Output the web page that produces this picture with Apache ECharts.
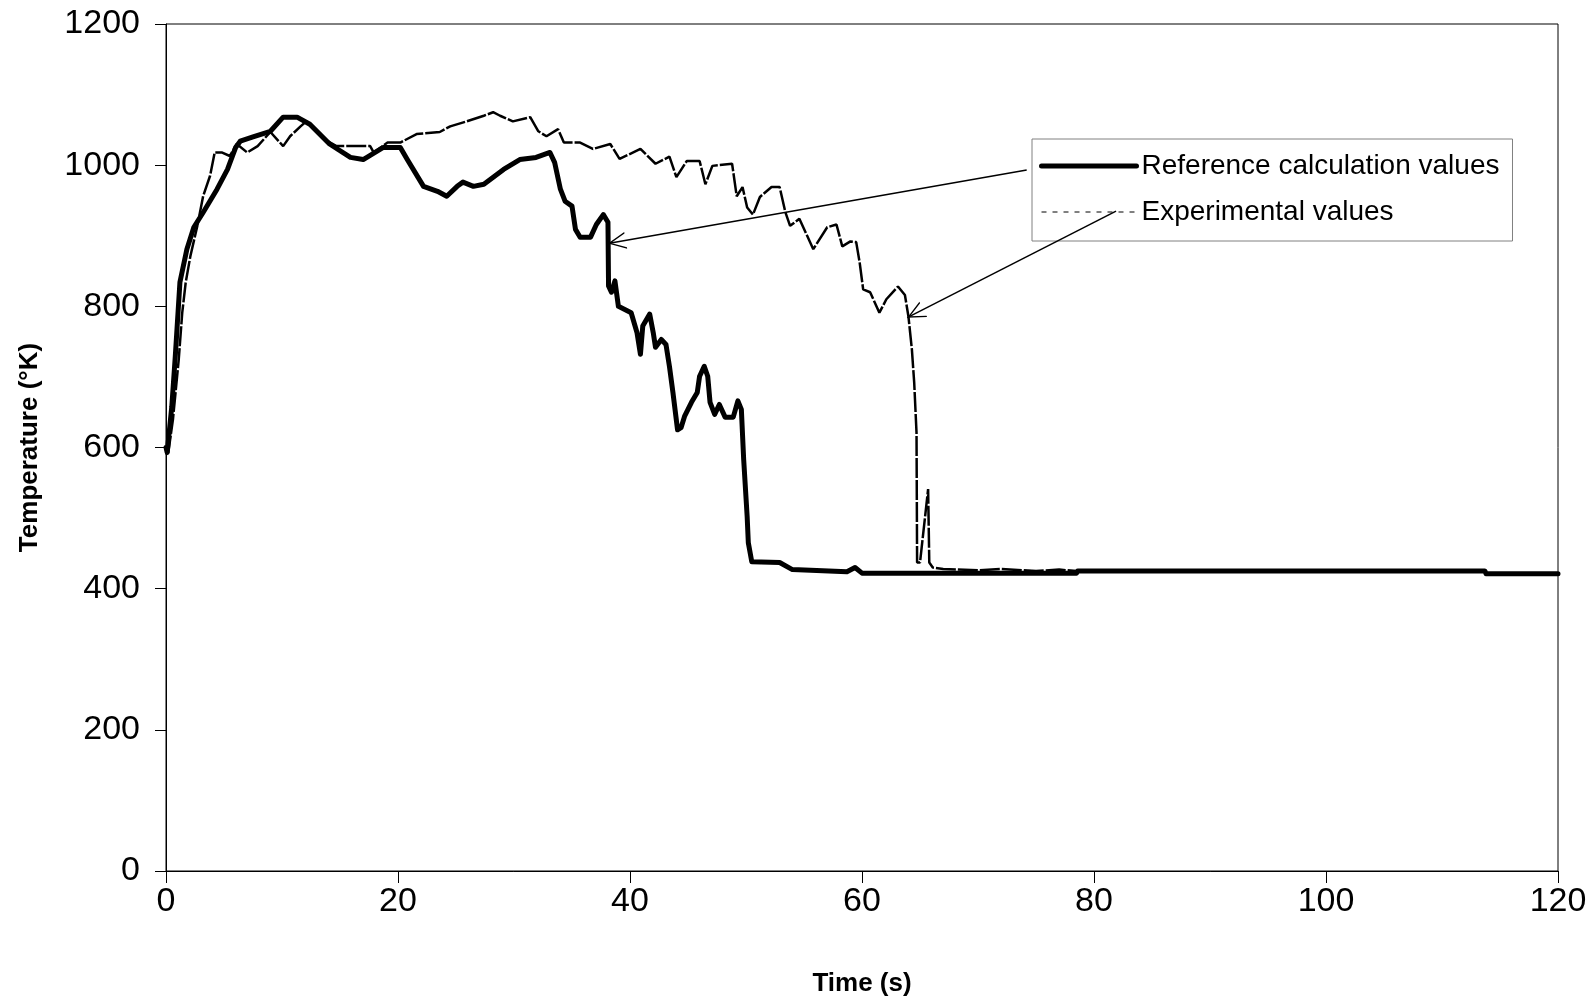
<!DOCTYPE html>
<html>
<head>
<meta charset="utf-8">
<script src="https://cdn.jsdelivr.net/npm/echarts@6/dist/echarts.min.js"></script>
<style>
html,body{margin:0;padding:0;background:#fff;}
#chart{width:1594px;height:1003px;}
</style>
</head>
<body>
<div id="chart"></div>
<script>
// Reference calculation values (time s, temperature K)
const refTime = [0,0.1,0.5,0.8,1.2,1.8,2.4,3.2,4.4,5.3,6.0,6.4,7.5,9.0,10.1,11.3,12.4,14.1,15.9,17.0,18.7,20.2,20.8,22.2,23.4,24.2,25.1,25.6,26.5,27.4,29.1,30.5,31.9,33.1,33.5,34.0,34.4,35.0,35.3,35.7,36.6,37.1,37.7,38.1,38.15,38.4,38.7,39.0,40.1,40.6,40.9,41.1,41.7,42.0,42.2,42.7,43.1,43.4,43.7,44.1,44.4,44.7,45.3,45.8,46.0,46.4,46.7,46.9,47.3,47.7,48.2,48.9,49.3,49.6,49.8,50.1,50.2,50.5,52.9,54.0,58.7,59.4,60.0,78.5,78.6,113.7,113.8,120];
const refTemp = [600,593,658,729,834,881,912,933,966,994,1025,1034,1040,1048,1068,1068,1058,1030,1011,1008,1025,1025,1008,970,963,956,970,976,970,973,994,1008,1011,1018,1004,966,949,942,909,898,898,916,930,919,829,820,836,800,791,763,732,772,789,763,742,753,746,715,678,625,628,644,664,678,701,715,701,664,647,661,643,643,666,654,583,502,465,438,437,427,424,430,422,422,425,425,421,421];

// Experimental values
const expTime = [0,0.2,0.6,1.1,1.4,1.7,2.1,2.7,3.2,3.8,4.2,4.8,5.5,6.1,7.0,7.9,9.0,10.1,10.7,11.6,12.1,13.6,14.7,17.6,17.9,19.1,20.2,21.6,23.6,24.5,25.9,27.4,28.2,28.8,29.9,31.4,32.1,32.8,33.8,34.3,35.7,36.8,38.3,39.1,40.9,42.2,43.4,44.0,44.9,46.0,46.5,47.1,48.8,49.2,49.7,50.1,50.6,51.2,52.2,52.9,53.4,53.8,54.6,55.8,57.0,57.8,58.3,59.0,59.5,59.8,60.1,60.7,61.5,62.1,63.1,63.7,64.0,64.3,64.5,64.7,64.75,65.0,65.7,65.8,66.1,67,70,72,75,77,78.5,100,113.7,113.8,120];
const expTemp = [590,593,640,725,791,834,871,914,956,985,1018,1018,1013,1030,1018,1027,1047,1027,1041,1055,1062,1037,1027,1027,1018,1032,1032,1044,1047,1055,1062,1070,1075,1070,1062,1068,1048,1041,1051,1032,1032,1023,1030,1009,1023,1002,1012,983,1006,1006,973,999,1002,956,969,940,930,955,969,969,933,914,924,881,912,916,885,892,891,862,824,820,791,810,828,816,786,739,692,621,437,437,541,437,430,428,426,428,425,427,425,426,425,421,421];

// Axis ticks
const xTicks = [0,20,40,60,80,100,120];
const yTicks = [0,200,400,600,800,1000,1200];

// Legend names
const seriesNames = ['Reference calculation values', 'Experimental values'];

// Annotation arrows: [from [t, T], to [t, T]]
const arrows = [
  [[74.2, 993], [38.1, 889]],
  [[81.9, 935], [63.9, 784]]
];

const zip = (a, b) => a.map((v, i) => [v, b[i]]);
const FONT = '"Liberation Sans", Arial, sans-serif';
const arrowHead = 'path://M10,0 L10.01,0 Z M10,20 L20,40 L18.3,40 L10,23.5 L1.7,40 L0,40 Z';

const chart = echarts.init(document.getElementById('chart'), null, {renderer: 'canvas'});
chart.setOption({
  animation: false,
  backgroundColor: '#fff',
  grid: {left: 166, right: 36, top: 24, bottom: 132, show: true, borderColor: '#000', borderWidth: 1, backgroundColor: 'transparent'},
  xAxis: {
    type: 'value', min: xTicks[0], max: xTicks[xTicks.length - 1], interval: 20,
    name: 'Time (s)', nameLocation: 'middle', nameGap: 100,
    nameTextStyle: {fontFamily: FONT, fontSize: 26, fontWeight: 'bold', color: '#000'},
    axisLine: {lineStyle: {color: '#000', width: 1}},
    axisTick: {show: true, length: 12, lineStyle: {color: '#000'}},
    axisLabel: {fontFamily: FONT, fontSize: 34, color: '#000', margin: 14, formatter: v => String(v)},
    splitLine: {show: false}
  },
  yAxis: {
    type: 'value', min: yTicks[0], max: yTicks[yTicks.length - 1], interval: 200,
    name: 'Temperature (°K)', nameLocation: 'middle', nameGap: 123,
    nameTextStyle: {fontFamily: FONT, fontSize: 26, fontWeight: 'bold', color: '#000'},
    axisLine: {show: true, lineStyle: {color: '#000', width: 1}},
    axisTick: {show: true, length: 11, lineStyle: {color: '#000'}},
    axisLabel: {fontFamily: FONT, fontSize: 34, color: '#000', margin: 26, formatter: v => String(v)},
    splitLine: {show: false}
  },
  legend: {
    orient: 'vertical', left: 1032, top: 139,
    backgroundColor: '#fff', borderColor: '#808080', borderWidth: 1, borderRadius: 0,
    padding: [13, 13, 15, 7], itemWidth: 95, itemHeight: 20, itemGap: 18,
    textStyle: {fontFamily: FONT, fontSize: 28, color: '#000'},
    data: [
      {name: seriesNames[0], itemStyle: {opacity: 0}, lineStyle: {width: 5, color: '#000', type: 'solid', cap: 'round'}},
      {name: seriesNames[1], itemStyle: {opacity: 0}, lineStyle: {width: 1, color: '#000', type: [5, 6]}}
    ]
  },
  series: [
    {
      name: seriesNames[0], type: 'line', data: zip(refTime, refTemp),
      symbol: 'none', color: '#000',
      lineStyle: {color: '#000', width: 5, join: 'round', cap: 'round'},
      z: 3
    },
    {
      name: seriesNames[1], type: 'line', data: zip(expTime, expTemp),
      symbol: 'none', color: '#000',
      lineStyle: {color: '#000', width: 2.5, type: [20, 2]},
      z: 2,
      markLine: {
        silent: true, animation: false,
        symbol: ['none', arrowHead], symbolSize: [17, 36],
        label: {show: false},
        lineStyle: {color: '#000', width: 1.5, type: 'solid'},
        emphasis: {disabled: true},
        data: arrows.map(a => [{coord: a[0]}, {coord: a[1]}])
      }
    }
  ]
});
</script>
</body>
</html>
